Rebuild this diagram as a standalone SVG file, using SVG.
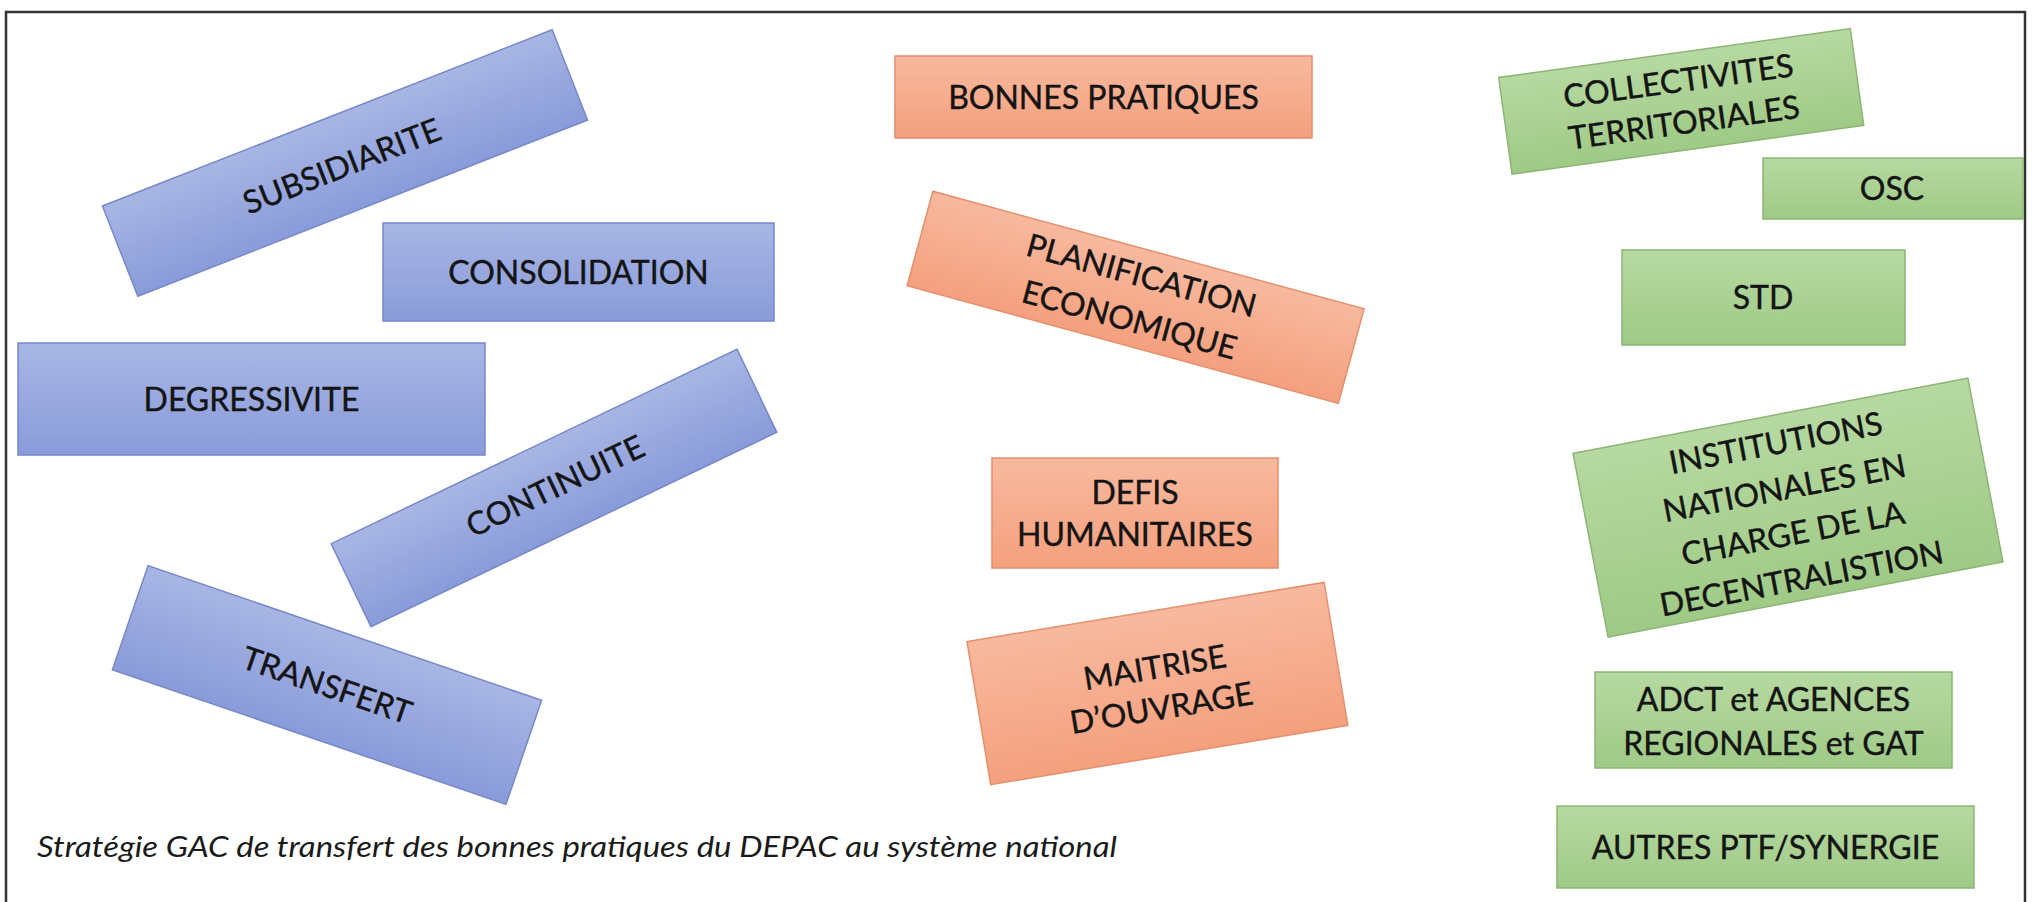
<svg xmlns="http://www.w3.org/2000/svg" width="2033" height="902" viewBox="0 0 2033 902">
  <style>
    .lbl { font-family: Lato, "Open Sans", "Liberation Sans", sans-serif; font-size: 32px; fill: #141414; stroke: #141414; stroke-width: 0.4; text-anchor: middle; }
    .blue { fill: url(#gBlue); stroke: #7787c8; stroke-width: 1.5; }
    .orange { fill: url(#gOrange); stroke: #e48f6d; stroke-width: 1.5; }
    .green { fill: url(#gGreen); stroke: #8db476; stroke-width: 1.5; }
    .caption { font-family: Lato, "Open Sans", "Liberation Sans", sans-serif; font-size: 28px; font-style: italic; fill: #1a1a1a; }
  </style>
  <defs>
    <linearGradient id="gBlue" x1="0" y1="0" x2="0" y2="1">
      <stop offset="0" stop-color="#a8b6e5"/>
      <stop offset="1" stop-color="#899bd9"/>
    </linearGradient>
    <linearGradient id="gOrange" x1="0" y1="0" x2="0" y2="1">
      <stop offset="0" stop-color="#f8b99e"/>
      <stop offset="1" stop-color="#f4a07e"/>
    </linearGradient>
    <linearGradient id="gGreen" x1="0" y1="0" x2="0" y2="1">
      <stop offset="0" stop-color="#b6d9a1"/>
      <stop offset="1" stop-color="#9fca86"/>
    </linearGradient>
  </defs>
  <rect x="0" y="0" width="2033" height="902" fill="#ffffff"/>
  <path d="M6,905 V12 H2025 V905" fill="none" stroke="#333333" stroke-width="2.5"/>
  <g id="connectors"></g>

  <g id="subsidiarite" transform="translate(345,163) rotate(-21.4)">
    <rect class="blue" x="-241.5" y="-48.5" width="483" height="97"/>
    <text class="lbl" x="-4" y="13">SUBSIDIARITE</text>
  </g>
  <g id="consolidation">
    <rect class="blue" x="383" y="223" width="391" height="98"/>
    <text class="lbl" x="578.5" y="284">CONSOLIDATION</text>
  </g>
  <g id="degressivite">
    <rect class="blue" x="18" y="343" width="467" height="112"/>
    <text class="lbl" x="251.5" y="411">DEGRESSIVITE</text>
  </g>
  <g id="continuite" transform="translate(554,488) rotate(-25.6)">
    <rect class="blue" x="-225" y="-46" width="450" height="92"/>
    <text class="lbl" x="2" y="10">CONTINUITE</text>
  </g>
  <g id="transfert" transform="translate(327,685) rotate(18.9)">
    <rect class="blue" x="-208" y="-55" width="416" height="110"/>
    <text class="lbl" x="0" y="11.5">TRANSFERT</text>
  </g>

  <g id="bonnes-pratiques">
    <rect class="orange" x="895" y="56" width="417" height="82"/>
    <text class="lbl" x="1103.5" y="109">BONNES PRATIQUES</text>
  </g>
  <g id="planification" transform="translate(1135.6,297.3) rotate(15.25)">
    <rect class="orange" x="-223.5" y="-49" width="447" height="98"/>
    <text class="lbl" x="0" y="-11.5">PLANIFICATION</text>
    <text class="lbl" x="0" y="34.5">ECONOMIQUE</text>
  </g>
  <g id="defis-humanitaires">
    <rect class="orange" x="992" y="458" width="286" height="110"/>
    <text class="lbl" x="1135" y="503.5">DEFIS</text>
    <text class="lbl" x="1135" y="545.5">HUMANITAIRES</text>
  </g>
  <g id="maitrise-ouvrage" transform="translate(1157.4,683.5) rotate(-9.4)">
    <rect class="orange" x="-181" y="-72.5" width="362" height="145"/>
    <text class="lbl" x="0" y="-5">MAITRISE</text>
    <text class="lbl" x="0" y="36">D’OUVRAGE</text>
  </g>

  <g id="collectivites" transform="translate(1681.2,101.4) rotate(-7.9)">
    <rect class="green" x="-177.5" y="-48.75" width="355" height="97.5"/>
    <text class="lbl" x="0" y="-9.5">COLLECTIVITES</text>
    <text class="lbl" x="0" y="32.5">TERRITORIALES</text>
  </g>
  <g id="osc">
    <rect class="green" x="1763" y="158" width="260" height="61"/>
    <text class="lbl" x="1892" y="200">OSC</text>
  </g>
  <g id="std">
    <rect class="green" x="1622" y="250" width="283" height="95"/>
    <text class="lbl" x="1763" y="309">STD</text>
  </g>
  <g id="institutions" transform="translate(1788,507.6) rotate(-10.8)">
    <rect class="green" x="-201" y="-93.5" width="402" height="187"/>
    <text class="lbl" x="0" y="-54.5">INSTITUTIONS</text>
    <text class="lbl" x="0" y="-8.5">NATIONALES EN</text>
    <text class="lbl" x="0" y="37.5">CHARGE DE LA</text>
    <text class="lbl" x="0" y="83.5">DECENTRALISTION</text>
  </g>
  <g id="adct">
    <rect class="green" x="1595" y="672" width="357" height="96"/>
    <text class="lbl" x="1773.5" y="711">ADCT et AGENCES</text>
    <text class="lbl" x="1773.5" y="755">REGIONALES et GAT</text>
  </g>
  <g id="autres-ptf">
    <rect class="green" x="1557" y="806" width="417" height="82"/>
    <text class="lbl" x="1765.5" y="858.5">AUTRES PTF/SYNERGIE</text>
  </g>

  <text class="caption" x="37" y="857" textLength="1080" lengthAdjust="spacingAndGlyphs">Stratégie GAC de transfert des bonnes pratiques du DEPAC au système national</text>
</svg>
